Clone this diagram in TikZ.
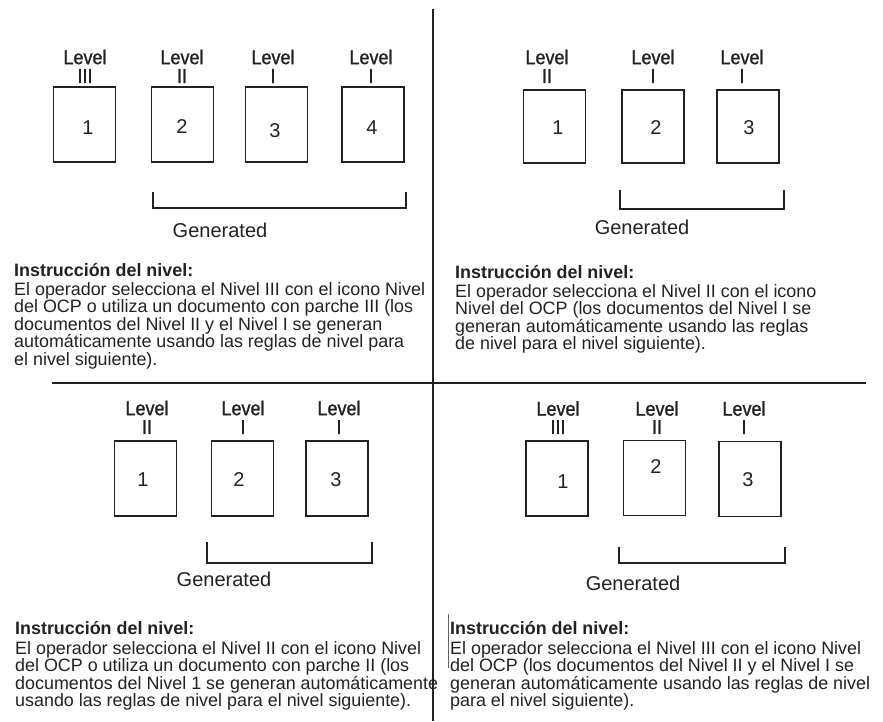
\documentclass[tikz,border=0pt]{standalone}
\usepackage{fontspec}
\setmainfont{Liberation Sans}
\newfontfamily\lvlfont[FakeBold=1.2,FakeStretch=0.9]{Liberation Sans}
\definecolor{ink}{HTML}{222222}
\begin{document}
\begin{tikzpicture}[x=1pt,y=-1pt,
  doc/.style={draw=ink, line width=1.3pt, minimum width=62pt, minimum height=75pt, inner sep=0pt},
  lvl/.style={inner sep=0pt, text=ink, font=\lvlfont\fontsize{20}{20}\selectfont},
  num/.style={inner sep=0pt, text=ink, font=\fontsize{20}{20}\selectfont},
  gen/.style={inner sep=0pt, text=ink, font=\fontsize{20}{20}\selectfont},
  body/.style={anchor=base west, inner sep=0pt, text=ink, font=\fontsize{17.9}{18}\selectfont},
  head/.style={body, font=\fontsize{17.9}{18}\selectfont\bfseries},
  brk/.style={draw=ink, line width=1.1pt},
  divider/.style={draw=ink, line width=1.4pt},
  speck/.style={draw=ink!70, line width=0.6pt}]
\useasboundingbox (0,0) rectangle (883,721);
\fill[white] (0,0) rectangle (883,721);

% dividers
\coordinate (vt) at (433,9);
\coordinate (vb) at (433,721);
\coordinate (hl) at (52,383);
\coordinate (hr) at (866,383);
\draw[divider] (vt) -- (vb);
\draw[divider] (hl) -- (hr);

% ---------------- top-left ----------------
\node[doc] (tlb1) at (84.5,124.5) {};
\node[doc] (tlb2) at (182.5,124.5) {};
\node[doc] (tlb3) at (276.5,124.5) {};
\node[doc] (tlb4) at (373,124.5) {};
\node[lvl] (tll1) at (85,57) {Level};  \node[lvl] (tlr1) at (85,76) {III};
\node[lvl] (tll2) at (182,57) {Level}; \node[lvl] (tlr2) at (182,76) {II};
\node[lvl] (tll3) at (273,57) {Level}; \node[lvl] (tlr3) at (273,76) {I};
\node[lvl] (tll4) at (371,57) {Level}; \node[lvl] (tlr4) at (371,76) {I};
\node[num] (tln1) at (88,128) {1};
\node[num] (tln2) at (182,127) {2};
\node[num] (tln3) at (275,131) {3};
\node[num] (tln4) at (372,128) {4};
\coordinate (tlk1) at (153,192); \coordinate (tlk2) at (153,208);
\coordinate (tlk3) at (406,208); \coordinate (tlk4) at (406,192);
\draw[brk] (tlk1) -- (tlk2) -- (tlk3) -- (tlk4);
\node[gen] (tlg) at (220,230) {Generated};
\node[head] (tlh) at (14,276) {Instrucción del nivel:};
\node[body] (tlt1) at (14,295) {El operador selecciona el Nivel III con el icono Nivel};
\node[body] (tlt2) at (14,312.5) {del OCP o utiliza un documento con parche III (los};
\node[body] (tlt3) at (14,330) {documentos del Nivel II y el Nivel I se generan};
\node[body] (tlt4) at (14,347.5) {automáticamente usando las reglas de nivel para};
\node[body] (tlt5) at (14,365) {el nivel siguiente).};

% ---------------- top-right ----------------
\node[doc, minimum height=73pt] (trb1) at (554.5,126.5) {};
\node[doc, minimum height=73pt] (trb2) at (653,126.5) {};
\node[doc, minimum height=73pt] (trb3) at (748,126.5) {};
\node[lvl] (trl1) at (547,57) {Level}; \node[lvl] (trr1) at (547,76) {II};
\node[lvl] (trl2) at (653,57) {Level}; \node[lvl] (trr2) at (653,76) {I};
\node[lvl] (trl3) at (742,57) {Level}; \node[lvl] (trr3) at (742,76) {I};
\node[num] (trn1) at (558,128) {1};
\node[num] (trn2) at (656,128) {2};
\node[num] (trn3) at (749,128) {3};
\coordinate (trk1) at (620,190); \coordinate (trk2) at (620,209);
\coordinate (trk3) at (784,209); \coordinate (trk4) at (784,190);
\draw[brk] (trk1) -- (trk2) -- (trk3) -- (trk4);
\node[gen] (trg) at (642,227) {Generated};
\node[head] (trh) at (455,278) {Instrucción del nivel:};
\node[body] (trt1) at (455,297) {El operador selecciona el Nivel II con el icono};
\node[body] (trt2) at (455,314.5) {Nivel del OCP (los documentos del Nivel I se};
\node[body] (trt3) at (455,332) {generan automáticamente usando las reglas};
\node[body] (trt4) at (455,349.5) {de nivel para el nivel siguiente).};

% ---------------- bottom-left ----------------
\node[doc] (blb1) at (145.5,478.5) {};
\node[doc] (blb2) at (242.5,478.5) {};
\node[doc] (blb3) at (337,478.5) {};
\node[lvl] (bll1) at (147,408) {Level}; \node[lvl] (blr1) at (147,427) {II};
\node[lvl] (bll2) at (243,408) {Level}; \node[lvl] (blr2) at (243,427) {I};
\node[lvl] (bll3) at (339,408) {Level}; \node[lvl] (blr3) at (339,427) {I};
\node[num] (bln1) at (143,480) {1};
\node[num] (bln2) at (239,480) {2};
\node[num] (bln3) at (336,480) {3};
\coordinate (blk1) at (207,542); \coordinate (blk2) at (207,563);
\coordinate (blk3) at (372,563); \coordinate (blk4) at (372,542);
\draw[brk] (blk1) -- (blk2) -- (blk3) -- (blk4);
\node[gen] (blg) at (224,579) {Generated};
\node[head] (blh) at (15,634) {Instrucción del nivel:};
\node[body] (blt1) at (15,654) {El operador selecciona el Nivel II con el icono Nivel};
\node[body] (blt2) at (15,671.5) {del OCP o utiliza un documento con parche II (los};
\node[body] (blt3) at (15,689) {documentos del Nivel 1 se generan automáticamente};
\node[body] (blt4) at (15,706.5) {usando las reglas de nivel para el nivel siguiente).};

% ---------------- bottom-right ----------------
\node[doc] (brb1) at (557,478.5) {};
\node[doc] (brb2) at (654.5,478) {};
\node[doc] (brb3) at (750,479) {};
\node[lvl] (brl1) at (558,408.5) {Level}; \node[lvl] (brr1) at (558,427) {III};
\node[lvl] (brl2) at (657,408.5) {Level}; \node[lvl] (brr2) at (657,427) {II};
\node[lvl] (brl3) at (744,408.5) {Level}; \node[lvl] (brr3) at (744,427) {I};
\node[num] (brn1) at (563,482) {1};
\node[num] (brn2) at (656,467) {2};
\node[num] (brn3) at (748,480) {3};
\coordinate (brk1) at (619,547); \coordinate (brk2) at (619,563);
\coordinate (brk3) at (785,563); \coordinate (brk4) at (785,547);
\draw[brk] (brk1) -- (brk2) -- (brk3) -- (brk4);
\node[gen] (brg) at (633,583) {Generated};
\coordinate (sp1) at (448,614); \coordinate (sp2) at (448,668);
\draw[speck] (sp1) -- (sp2);
\node[head] (brh) at (450,634) {Instrucción del nivel:};
\node[body] (brt1) at (450,654) {El operador selecciona el Nivel III con el icono Nivel};
\node[body] (brt2) at (450,671.5) {del OCP (los documentos del Nivel II y el Nivel I se};
\node[body] (brt3) at (450,689) {generan automáticamente usando las reglas de nivel};
\node[body] (brt4) at (450,706.5) {para el nivel siguiente).};
\end{tikzpicture}
\end{document}
